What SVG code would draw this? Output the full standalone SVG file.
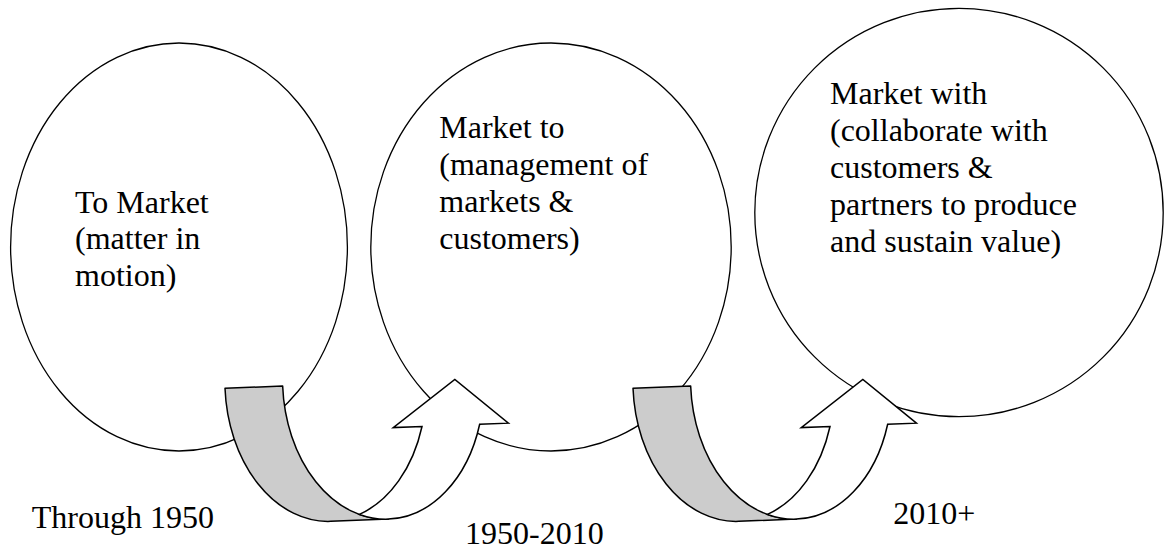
<svg xmlns="http://www.w3.org/2000/svg" width="1168" height="549" viewBox="0 0 1168 549">
  <style>
    .node { fill: #ffffff; stroke: #000000; stroke-width: 1.3; }
    .txt { font-family: "Liberation Serif", "Times New Roman", serif; font-size: 32px; fill: #000000; }
    .dark { fill: #cccccc; stroke: #000000; stroke-width: 1.5; stroke-linejoin: round; }
    .lit { fill: #ffffff; stroke: #000000; stroke-width: 1.5; stroke-linejoin: miter; }
  </style>
  <defs>
    <g id="curvedUpArrow">
      <path class="dark" d="M0,0 A100.6,137 0 0 0 100.6,137 L158.3,137 A100.6,137 0 0 1 57.7,0 Z"/>
      <path class="lit" d="M158.3,137 A100.6,137 0 0 0 253.1,45.7 L281.9,45.7 L230,0 L166.6,45.7 L195.4,45.7 A100.6,137 0 0 1 129.45,131.2 A100.6,137 0 0 0 158.3,137 Z"/>
    </g>
  </defs>

  <g id="node-to-market">
    <ellipse class="node" cx="179" cy="247" rx="168.4" ry="204"/>
    <text class="txt" x="75" y="212.5">To Market</text>
    <text class="txt" x="75" y="249.3">(matter in</text>
    <text class="txt" x="75" y="286.1">motion)</text>
  </g>

  <g id="node-market-to">
    <ellipse class="node" cx="551" cy="247" rx="180.2" ry="204"/>
    <text class="txt" x="439.3" y="138.2">Market to</text>
    <text class="txt" x="439.3" y="175">(management of</text>
    <text class="txt" x="439.3" y="211.8">markets &amp;</text>
    <text class="txt" x="439.3" y="248.6">customers)</text>
  </g>

  <g id="node-market-with">
    <ellipse class="node" cx="959" cy="212.5" rx="204.2" ry="204.2"/>
    <text class="txt" x="830" y="104.3">Market with</text>
    <text class="txt" x="830" y="141.1">(collaborate with</text>
    <text class="txt" x="830" y="177.9">customers &amp;</text>
    <text class="txt" x="830" y="214.7">partners to produce</text>
    <text class="txt" x="830" y="251.5">and sustain value)</text>
  </g>

  <g id="connectors">
    <use href="#curvedUpArrow" transform="translate(225,388.3) rotate(-2.2)"/>
    <use href="#curvedUpArrow" transform="translate(633,388.3) rotate(-2.2)"/>
  </g>

  <g id="labels">
    <text class="txt" x="31.7" y="528">Through 1950</text>
    <text class="txt" x="465" y="544">1950-2010</text>
    <text class="txt" x="893.3" y="524">2010+</text>
  </g>
</svg>
